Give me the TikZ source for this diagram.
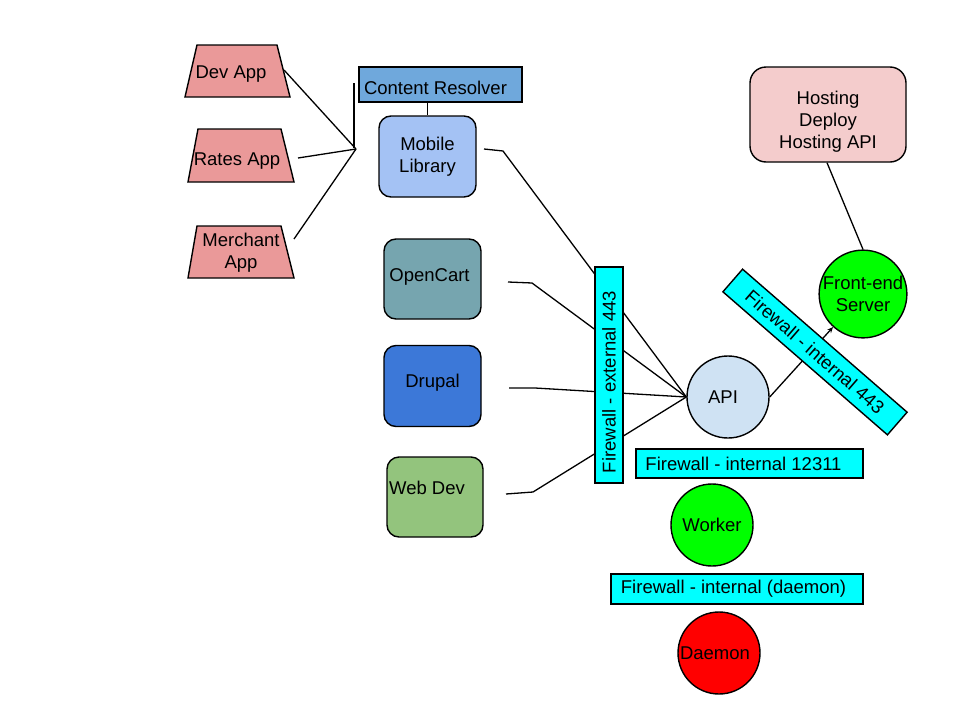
\documentclass[tikz,border=0pt]{standalone}
\usepackage{fontspec}
\setmainfont{Liberation Sans}
\usetikzlibrary{arrows.meta}

\definecolor{appred}{HTML}{EA9999}
\definecolor{resolverblue}{HTML}{6FA8DC}
\definecolor{mobileblue}{HTML}{A4C2F4}
\definecolor{cartteal}{HTML}{76A5AF}
\definecolor{drupalblue}{HTML}{3C78D8}
\definecolor{webgreen}{HTML}{93C47D}
\definecolor{hostpink}{HTML}{F4CCCC}
\definecolor{apiblue}{HTML}{CFE2F3}
\definecolor{fwcyan}{HTML}{00FFFF}
\definecolor{srvgreen}{HTML}{00FF00}
\definecolor{srvred}{HTML}{FF0000}

\tikzset{
	box/.style={draw, line width=1.4pt, rounded corners=12pt, align=center, inner sep=0pt},
	fw/.style={draw, line width=1.4pt, fill=fwcyan, inner sep=0pt},
	srv/.style={draw, circle, line width=1.4pt, inner sep=0pt, minimum size=82pt, align=center},
	wire/.style={line width=1.3pt},
}

\begin{document}
\begin{tikzpicture}[x=1pt,y=-1pt,font=\fontsize{18.5}{22}\selectfont]
		
		\useasboundingbox (0,0) rectangle (960,720);
		
		% apps
		\foreach \ty/\tl/\tr/\by/\bl/\br in {45/197/277/97/185/290, 129/198/281/182/188/294, 226/197/281/278/188/294}
		\draw[line width=1.4pt, fill=appred] (\tl,\ty) -- (\tr,\ty) -- (\br,\by) -- (\bl,\by) -- cycle;
		
		\node (devapp) at (231,74) {Dev App};
		\node (ratesapp) at (237,161) {Rates App};
		\node[align=center] (merchapp) at (241,253) {Merchant\\App};
		
		\coordinate (fan) at (356,149);
		\coordinate (devout) at (284,70);
		\coordinate (ratesout) at (298,158);
		\coordinate (merchout) at (294,239);
		\coordinate (fantop) at (354,83);
		\coordinate (fanbot) at (354,148);
		
		\draw[wire] (devout) -- (fan);
		\draw[wire] (ratesout) -- (fan);
		\draw[wire] (merchout) -- (fan);
		\draw[wire] (fantop) -- (fanbot);
		
		% clients
		\node[draw, line width=1.4pt, fill=resolverblue, minimum width=163pt, minimum height=35pt, inner sep=0pt,
			label={[xshift=-5pt,yshift=-3pt]center:Content Resolver}] (resolver) at (440.5,84.5) {};
		\node[box, fill=mobileblue, minimum width=97pt, minimum height=81pt] (mobile) at (427.5,156.5) {Mobile\\Library};
		\node[box, fill=cartteal, minimum width=97pt, minimum height=80pt,
			label={[xshift=-3pt,yshift=2pt]center:OpenCart}] (opencart) at (432.5,279) {};
		\node[box, fill=drupalblue, minimum width=97pt, minimum height=81pt,
			label={[yshift=3pt]center:Drupal}] (drupal) at (432.5,386) {};
		\node[box, fill=webgreen, minimum width=96pt, minimum height=80pt,
			label={[xshift=-8pt,yshift=9pt]center:Web Dev}] (webdev) at (435,497) {};
		
		\draw[wire] (resolver.south -| mobile.north) -- (mobile.north);
		
		% servers
		\node[srv, fill=apiblue] (api) at (728,397) {\hspace*{-10pt}API};
		\node[srv, fill=srvgreen] (front) at (863,294) {Front-end\\Server};
		\node[srv, fill=srvgreen] (worker) at (712,525) {Worker};
		\node[srv, fill=srvred] (daemon) at (719,653) {\hspace*{-8pt}Daemon};
		\node[box, fill=hostpink, minimum width=156pt, minimum height=95pt, rounded corners=16pt,
			label={[yshift=-7pt,align=center]center:Hosting\\Deploy\\Hosting API}] (hosting) at (828,114.5) {};
		
		\coordinate (mobout) at (484,149);
		\coordinate (mobbend) at (503,151);
		\coordinate (cartout) at (508,282);
		\coordinate (cartbend) at (532,283);
		\coordinate (drupout) at (509,388);
		\coordinate (drupbend) at (535,388);
		\coordinate (webout) at (506,494);
		\coordinate (webbend) at (533,492);
		
		\draw[wire] (mobout) -- (mobbend) -- (api.west);
		\draw[wire] (cartout) -- (cartbend) -- (api.west);
		\draw[wire] (drupout) -- (drupbend) -- (api.west);
		\draw[wire] (webout) -- (webbend) -- (api.west);
		
		\draw[wire, -{Stealth[length=6pt,width=5pt]}] (api.east) -- (front);
		\draw[wire] (hosting.south -| 827,0) -- (front.north);
		
		% firewalls
		\node[fw, rotate=90, minimum width=216pt, minimum height=28pt] (fwext) at (609,375) {\hspace*{-14pt}Firewall - external 443};
		\node[fw, rotate=-41, minimum width=218pt, minimum height=30pt] (fwint) at (815,352) {Firewall - internal 443};
		\node[fw, minimum width=227pt, minimum height=29pt] (fwwork) at (749.5,463.5) {\hspace*{-12pt}Firewall - internal 12311};
		\node[fw, minimum width=252pt, minimum height=30pt] (fwdaemon) at (737,589) {\hspace*{-7pt}Firewall - internal (daemon)};
		
\end{tikzpicture}
\end{document}
